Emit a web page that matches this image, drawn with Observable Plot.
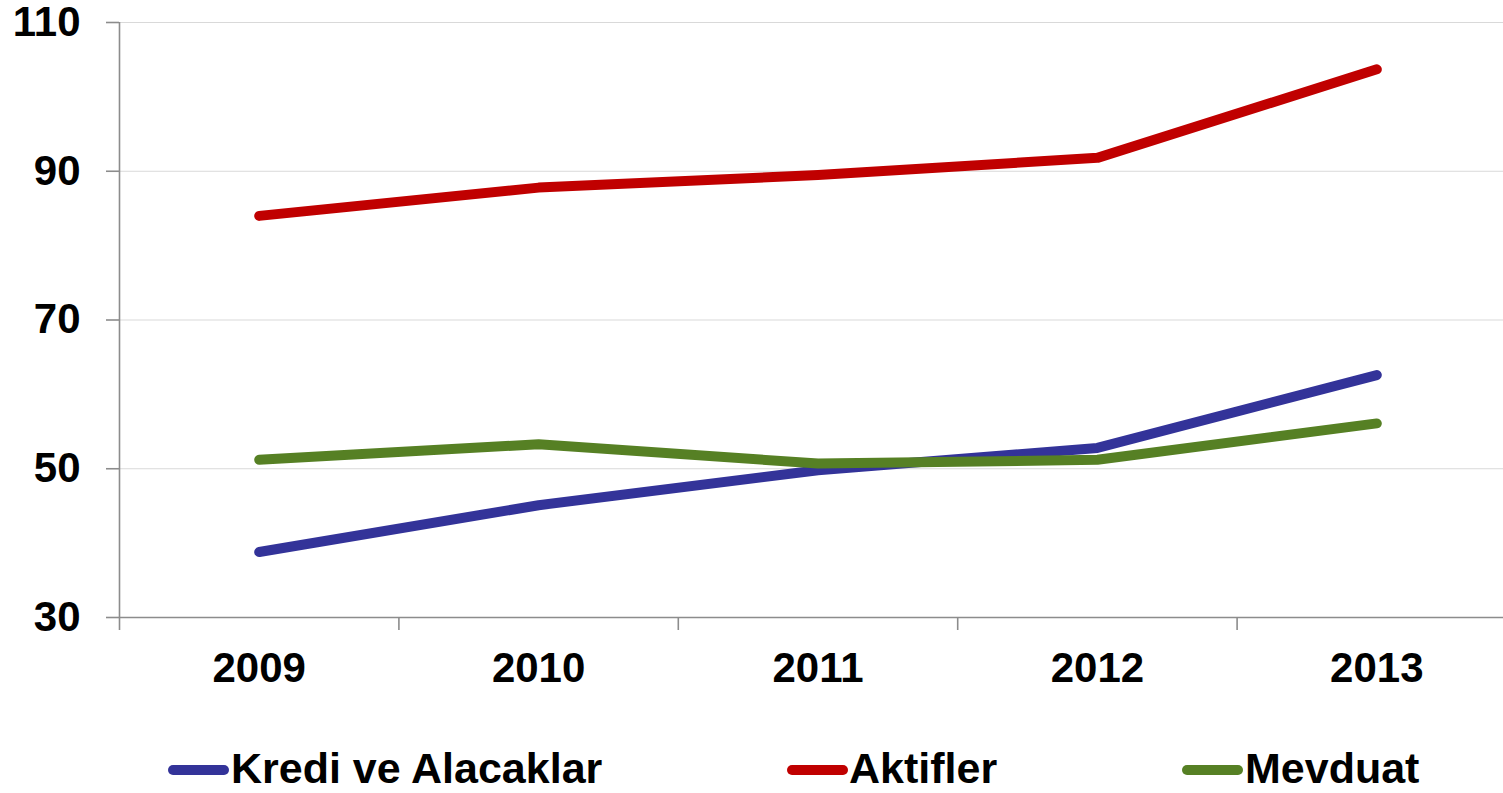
<!DOCTYPE html>
<html>
<head>
<meta charset="utf-8">
<script src="https://cdn.jsdelivr.net/npm/d3@7"></script>
<script src="https://cdn.jsdelivr.net/npm/@observablehq/plot@0.6"></script>
<style>
  html, body { margin: 0; padding: 0; background: #fff; overflow: hidden; }
  #wrap { position: relative; width: 1503px; height: 793px; overflow: hidden; font-family: "Liberation Sans", Arial, sans-serif; }
  #chart { position: absolute; left: 0; top: 0; width: 1516px; height: 720px; }
  #chart svg { max-width: none !important; width: 1516px !important; height: 720px !important; }
  .leg { position: absolute; top: 0; left: 0; }
  .sw { position: absolute; top: 765px; height: 10px; width: 61px; border-radius: 5px; }
  .lt { position: absolute; top: 747px; font-size: 43px; line-height: 43px; font-weight: bold; color: #000; white-space: nowrap; }
</style>
</head>
<body>
<div id="wrap">
  <div id="chart"></div>
  <div id="legend" class="leg"></div>
</div>
<script>
const years = [2009, 2010, 2011, 2012, 2013];
const seriesNames = ["Kredi ve Alacaklar", "Aktifler", "Mevduat"];
const kredi = [38.8, 45.1, 49.8, 52.8, 62.6];
const aktifler = [84.0, 87.8, 89.5, 91.8, 103.7];
const mevduat = [51.2, 53.3, 50.7, 51.2, 56.1];
const yTicks = [30, 50, 70, 90, 110];
const colors = ["#333399", "#C00000", "#568024"];

const valuesBySeries = [kredi, aktifler, mevduat];
const rows = [];
seriesNames.forEach((name, i) => {
  years.forEach((yr, j) => rows.push({series: name, year: yr, value: valuesBySeries[i][j]}));
});
const boundaries = years.map(y => y - 0.5);
const axisGray = "#8c8c8c";

const plot = Plot.plot({
  width: 1516,
  height: 720,
  marginLeft: 119,
  marginRight: 0,
  marginTop: 22,
  marginBottom: 103,
  style: {fontFamily: "'Liberation Sans', Arial, sans-serif", fontSize: "42px", fontWeight: "bold", color: "#000", background: "transparent", maxWidth: "none"},
  x: {type: "linear", domain: [years[0] - 0.5, years[years.length - 1] + 0.5]},
  y: {domain: [30, 110]},
  color: {domain: seriesNames, range: colors},
  marks: [
    Plot.gridY(yTicks.slice(1), {stroke: "#d9d9d9", strokeOpacity: 1, strokeWidth: 1.2}),
    Plot.ruleY([30], {x1: years[0] - 0.5, x2: years[years.length - 1] + 0.5, stroke: axisGray, strokeWidth: 1.6}),
    Plot.ruleX([years[0] - 0.5], {y1: 30, y2: 110, stroke: axisGray, strokeWidth: 1.6}),
    Plot.axisY(yTicks, {tickSize: 13, tickPadding: 26, stroke: axisGray, strokeWidth: 1.6, fill: "#000", label: null, tickFormat: d => String(d)}),
    Plot.axisX(boundaries, {tickSize: 13, tickFormat: () => "", stroke: axisGray, strokeWidth: 1.6, label: null}),
    Plot.axisX(years, {tickSize: 0, tickPadding: 35, fill: "#000", label: null, tickFormat: d => String(d)}),
    Plot.line(rows, {x: "year", y: "value", z: "series", stroke: "series", strokeWidth: 10, strokeLinecap: "round", strokeLinejoin: "round"})
  ]
});
document.getElementById("chart").appendChild(plot);

// legend
const legend = document.getElementById("legend");
const swatchLeft = [168, 787, 1182];
const textLeft = [231, 849, 1245];
seriesNames.forEach((name, i) => {
  const sw = document.createElement("div");
  sw.className = "sw";
  sw.style.left = swatchLeft[i] + "px";
  sw.style.background = colors[i];
  legend.appendChild(sw);
  const t = document.createElement("div");
  t.className = "lt";
  t.style.left = textLeft[i] + "px";
  t.textContent = name;
  legend.appendChild(t);
});
</script>
</body>
</html>
